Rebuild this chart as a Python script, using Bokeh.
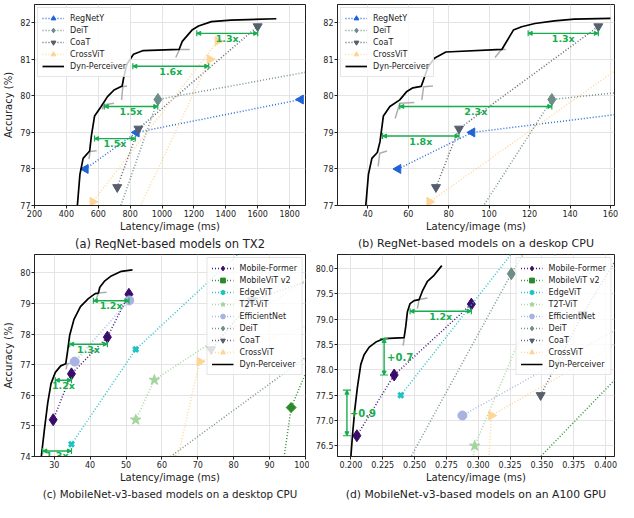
import numpy as np
from bokeh.plotting import figure
from bokeh.layouts import gridplot
from bokeh.models import (Range1d, FixedTicker, Arrow, TeeHead, NormalHead, ColumnDataSource,
                          Title, PrintfTickFormatter)
from bokeh.embed import file_html
from bokeh.resources import INLINE
from bokeh.core.properties import value

FONT = "DejaVu Sans"
GREEN = "#17ad4e"

# ---------------- Panel (a): RegNet-based models on TX2 ----------------
A_REGNETY_X = [520, 840, 1870]
A_REGNETY_Y = [78.0, 79.0, 79.9]
A_DEIT_X = [358, 974, 3334]
A_DEIT_Y = [72.2, 79.9, 81.8]
A_COAT_X = [719, 852, 1600]
A_COAT_Y = [77.5, 79.1, 81.9]
A_CROSSVIT_X = [470, 565, 1350]
A_CROSSVIT_Y = [73.9, 77.1, 81.5]
A_CROSSVIT2_X = [475, 1300]
A_CROSSVIT2_Y = [73.4, 81.0]
A_DYN_X = [466, 469, 485, 505, 546, 557, 577, 618, 658, 699, 750, 760, 780, 821, 882, 1107, 1127, 1188,
           1229, 1310, 1432, 1717]
A_DYN_Y = [76.8, 77.0, 77.85, 78.29, 78.49, 78.91, 79.45, 79.71, 79.98, 80.16, 80.27, 80.51, 80.87, 81.14,
           81.24, 81.27, 81.49, 81.80, 81.91, 82.03, 82.07, 82.11]
A_TAIL_XS = [[542, 548, 590], [624, 638, 699], [746, 754, 780], [1086, 1110, 1174]]
A_TAIL_YS = [[78.27, 78.48, 78.5], [79.63, 79.76, 79.8], [79.89, 80.25, 80.27], [81.05, 81.27, 81.27]]
A_SPEED_X0 = [577, 638, 817, 1218]
A_SPEED_X1 = [832, 973, 1293, 1600]
A_SPEED_Y = [78.83, 79.71, 80.81, 81.71]
A_SPEED_LABEL = ["1.5x", "1.5x", "1.6x", "1.3x"]
A_XTICKS = [200, 400, 600, 800, 1000, 1200, 1400, 1600, 1800]
AB_YTICKS = [77, 78, 79, 80, 81, 82]

# ---------------- Panel (b): RegNet-based models on a desktop CPU ----------------
B_REGNETY_X = [55.0, 91.6, 222.6]
B_REGNETY_Y = [78.0, 79.0, 79.9]
B_DEIT_X = [41.5, 131.0, 455.0]
B_DEIT_Y = [72.2, 79.9, 81.8]
B_COAT_X = [73.7, 85.1, 154.0]
B_COAT_Y = [77.5, 79.1, 81.9]
B_CROSSVIT_X = [64.3, 70.5, 183.0]
B_CROSSVIT_Y = [73.9, 77.1, 81.5]
B_DYN_X = [38.8, 39.0, 40.3, 42.0, 44.7, 46.0, 47.7, 50.9, 55.8, 59.1, 62.3, 66.4, 68.0, 69.7, 72.9, 78.6,
           106.3, 107.9, 112.0, 116.1, 122.6, 132.3, 142.1, 160.0]
B_DYN_Y = [76.8, 77.0, 77.85, 78.29, 78.45, 78.74, 79.45, 79.71, 79.89, 80.11, 80.22, 80.26, 80.51, 80.78,
           81.03, 81.2, 81.27, 81.42, 81.80, 81.89, 81.98, 82.05, 82.10, 82.12]
B_TAIL_XS = [[45.1, 45.9, 49.5], [53.5, 55.8, 63.0], [66.7, 67.6, 72.2], [102.9, 106.1, 108.2]]
B_TAIL_YS = [[78.07, 78.43, 78.49], [79.38, 79.8, 79.82], [79.89, 80.25, 80.27], [81.05, 81.27, 81.27]]
B_SPEED_X0 = [47.3, 55.8, 119.3]
B_SPEED_X1 = [85.1, 131.0, 154.0]
B_SPEED_Y = [78.9, 79.71, 81.71]
B_SPEED_LABEL = ["1.8x", "2.3x", "1.3x"]
B_XTICKS = [40, 60, 80, 100, 120, 140, 160]

# ---------------- Panel (c): MobileNet-v3-based models on a desktop CPU ----------------
C_MF_X = [29.7, 34.8, 44.8, 50.8]
C_MF_Y = [75.2, 76.7, 77.9, 79.3]
C_MVIT_X = [89.5, 96.0, 105.0]
C_MVIT_Y = [70.2, 75.6, 78.1]
C_EDGE_X = [34.8, 52.7, 84.8]
C_EDGE_Y = [74.4, 77.5, 81.0]
C_T2T_X = [52.7, 57.9, 122.5]
C_T2T_Y = [75.2, 76.5, 81.5]
C_EFF_X = [35.7, 50.9]
C_EFF_Y = [77.1, 79.1]
C_DEIT_X = [41.5, 131.0, 455.0]
C_DEIT_Y = [72.2, 79.9, 81.8]
C_COAT_X = [73.7, 85.1, 154.0]
C_COAT_Y = [77.5, 79.1, 81.9]
C_CROSSVIT_X = [64.3, 70.5, 183.0]
C_CROSSVIT_Y = [73.9, 77.1, 81.5]
C_DYN_X = [26.2, 26.4, 27.3, 28.2, 29.1, 30.3, 31.8, 33.2, 33.7, 34.3, 35.5, 37.3, 39.5, 41.4, 42.3, 42.7,
           44.1, 45.9, 48.7, 51.8]
C_DYN_Y = [73.8, 74.0, 74.92, 75.76, 76.38, 76.75, 76.96, 77.03, 77.43, 77.96, 78.48, 78.9, 79.16, 79.32,
           79.34, 79.53, 79.74, 79.9, 80.05, 80.1]
C_TAIL_XS = [[33.3, 33.6, 34.3], [41.6, 42.3, 44.6]]
C_TAIL_YS = [[76.85, 77.03, 77.05], [79.1, 79.34, 79.37]]
C_SPEED_X0 = [26.8, 30.3, 34.3, 40.9]
C_SPEED_X1 = [34.8, 34.8, 44.8, 50.8]
C_SPEED_Y = [74.18, 76.49, 77.67, 79.09]
C_SPEED_LABEL = ["1.3x", "1.2x", "1.3x", "1.2x"]
C_XTICKS = [30, 40, 50, 60, 70, 80, 90, 100]
C_YTICKS = [74, 75, 76, 77, 78, 79, 80]

# ---------------- Panel (d): MobileNet-v3-based models on an A100 GPU ----------------
D_MF_X = [0.2047, 0.234, 0.2946]
D_MF_Y = [76.7, 77.9, 79.3]
D_MVIT_X = [0.300, 0.3225, 0.4186]
D_MVIT_Y = [70.2, 75.6, 78.1]
D_EDGE_X = [0.2392, 0.348]
D_EDGE_Y = [77.5, 81.0]
D_T2T_X = [0.290, 0.2972, 0.381]
D_T2T_Y = [75.2, 76.5, 81.5]
D_EFF_X = [0.2876, 0.430]
D_EFF_Y = [77.1, 79.1]
D_DEIT_X = [0.158, 0.326, 0.372]
D_DEIT_Y = [72.2, 79.9, 81.8]
D_COAT_X = [0.349, 0.382, 0.450]
D_COAT_Y = [77.5, 79.1, 81.9]
D_CROSSVIT_X = [0.3032, 0.3103, 0.616]
D_CROSSVIT_Y = [73.9, 77.1, 81.5]
D_DYN_X = [0.1995, 0.2000, 0.2013, 0.2031, 0.2052, 0.2078, 0.2104, 0.2144, 0.2196, 0.2261, 0.2418, 0.2431,
           0.2444, 0.2465, 0.2497, 0.2536, 0.2562, 0.2601, 0.2653, 0.2714]
D_DYN_Y = [76.0, 76.29, 76.72, 77.22, 77.67, 78.11, 78.3, 78.45, 78.55, 78.62, 78.64, 78.86, 79.15, 79.31,
           79.37, 79.39, 79.56, 79.75, 79.87, 80.06]
D_TAIL_XS = [[0.2410, 0.2420], [0.2522, 0.2536, 0.2601]]
D_TAIL_YS = [[78.48, 78.64], [79.21, 79.39, 79.42]]
D_SPEED_X0 = [0.2465]
D_SPEED_X1 = [0.2946]
D_SPEED_Y = [79.16]
D_SPEED_LABEL = ["1.2x"]
D_GAIN_X = [0.1969, 0.2261]
D_GAIN_Y0 = [76.7, 77.9]
D_GAIN_Y1 = [77.6, 78.62]
D_GAIN_LABEL = ["+0.9", "+0.7"]
D_XTICKS = [0.200, 0.225, 0.250, 0.275, 0.300, 0.325, 0.350, 0.375, 0.400]
D_YTICKS = [76.5, 77.0, 77.5, 78.0, 78.5, 79.0, 79.5, 80.0]

# styles: (color, marker, size, angle)
STY = {
    "RegNetY": ("#1f63d8", "triangle", 9, np.pi / 2),
    "DeiT": ("#6e8d89", "diamond", 12, 0.0),
    "CoaT": ("#575e6e", "inverted_triangle", 9, 0.0),
    "CrossViT": ("#ffd596", "triangle", 9, -np.pi / 2),
    "Mobile-Former": ("#3a0c6c", "diamond", 12, 0.0),
    "MobileViT v2": ("#2b8a2b", "square", 7, np.pi / 4),
    "EdgeViT": ("#1fc2c2", "x", 7, 0.0),
    "T2T-ViT": ("#a4d49e", "star", 11, 0.0),
    "EfficientNet": ("#a8b3e2", "circle", 9, 0.0),
}


def make_fig(xr, yr, xticks, yticks, width, left, ylabel, caption, cap_size, xfmt=None, yfmt=None):
    p = figure(width=width, height=250, x_range=Range1d(*xr), y_range=Range1d(*yr),
               output_backend="svg", toolbar_location=None,
               min_border_left=left, min_border_right=4, min_border_top=4, min_border_bottom=0)
    p.outline_line_color = "#222222"
    p.outline_line_width = 1
    p.background_fill_color = "white"
    for ax in (p.xaxis[0], p.yaxis[0]):
        ax.axis_line_color = "#222222"
        ax.major_tick_line_color = "#222222"
        ax.major_tick_out = 3
        ax.major_tick_in = 0
        ax.minor_tick_out = 0
        ax.minor_tick_in = 0
        ax.major_label_text_font = FONT
        ax.major_label_text_font_size = "8px"
        ax.major_label_text_color = "#222222"
        ax.major_label_standoff = 1
        ax.axis_label_text_font = FONT
        ax.axis_label_text_font_size = "10px"
        ax.axis_label_text_font_style = "normal"
        ax.axis_label_text_color = "#222222"
        ax.axis_label_standoff = 1
    p.xaxis[0].ticker = FixedTicker(ticks=xticks)
    p.yaxis[0].ticker = FixedTicker(ticks=yticks)
    if xfmt:
        p.xaxis[0].formatter = PrintfTickFormatter(format=xfmt)
    if yfmt:
        p.yaxis[0].formatter = PrintfTickFormatter(format=yfmt)
    p.xaxis[0].axis_label = "Latency/image (ms)"
    if ylabel:
        p.yaxis[0].axis_label = ylabel
        p.yaxis[0].axis_label_standoff = 3
    p.grid.grid_line_color = "#e4e4e4"
    p.grid.grid_line_width = 1
    p.add_layout(Title(text=caption, align="center", text_font=FONT, text_font_size=cap_size,
                       text_font_style="normal", text_color="#222222", standoff=0, offset=0), "below")
    return p


def series(p, name, xs, ys, legend=True, markers=True):
    color, marker, size, angle = STY[name]
    kw = dict(legend_label=name) if legend else {}
    p.line(xs, ys, line_color=color, line_dash="1 2", line_width=1.5, line_alpha=0.95, **kw)
    if markers:
        lw = 3 if marker == "x" else 1
        p.scatter(xs, ys, marker=marker, size=size, angle=angle, fill_color=color,
                  line_color=color, line_width=lw, **kw)


def dyn(p, xs, ys, txs, tys):
    p.multi_line(txs, tys, line_color="#9a9a9a", line_width=1.5, line_alpha=0.8)
    p.line(xs, ys, line_color="black", line_width=1.7, legend_label="Dyn-Perceiver")


def speedups(p, x0, x1, y, labels):
    src = ColumnDataSource(dict(x0=x0, x1=x1, y=y))
    p.add_layout(Arrow(source=src, x_start="x0", y_start="y", x_end="x1", y_end="y",
                       start=TeeHead(size=6, line_color=GREEN, line_width=1.2),
                       end=TeeHead(size=6, line_color=GREEN, line_width=1.2),
                       line_color=GREEN, line_width=1.4))
    p.add_layout(Arrow(source=src, x_start="x0", y_start="y", x_end="x1", y_end="y",
                       start=NormalHead(size=4, fill_color=GREEN, line_color=GREEN),
                       end=NormalHead(size=4, fill_color=GREEN, line_color=GREEN),
                       line_alpha=0))
    xm = [(a + b) / 2 for a, b in zip(x0, x1)]
    p.text(xm, y, text=labels, text_color=GREEN, text_font=value(FONT), text_font_style="bold",
           text_font_size="9.5px", text_align="center", text_baseline="middle", y_offset=5)


def gains(p, x, y0, y1, labels):
    src = ColumnDataSource(dict(x=x, y0=y0, y1=y1))
    p.add_layout(Arrow(source=src, x_start="x", y_start="y0", x_end="x", y_end="y1",
                       start=TeeHead(size=8, line_color=GREEN, line_width=1.2),
                       end=TeeHead(size=8, line_color=GREEN, line_width=1.2),
                       line_color=GREEN, line_width=1.4))
    p.add_layout(Arrow(source=src, x_start="x", y_start="y0", x_end="x", y_end="y1",
                       start=NormalHead(size=4, fill_color=GREEN, line_color=GREEN),
                       end=NormalHead(size=4, fill_color=GREEN, line_color=GREEN),
                       line_alpha=0))
    ym = [(a + b) / 2 for a, b in zip(y0, y1)]
    p.text(x, ym, text=labels, text_color=GREEN, text_font=value(FONT), text_font_style="bold",
           text_font_size="10px", text_align="left", text_baseline="middle", x_offset=3)


def style_legend(p, loc):
    lg = p.legend[0]
    lg.location = loc
    lg.label_text_font = FONT
    lg.label_text_font_size = "8px"
    lg.label_text_color = "#222222"
    lg.label_height = 12
    lg.glyph_height = 12
    lg.glyph_width = 22
    lg.spacing = 0
    lg.padding = 4
    lg.margin = 3
    lg.label_standoff = 6
    lg.border_line_color = "#cccccc"
    lg.background_fill_alpha = 0.8


# ---- (a)
pa = make_fig((200, 1900), (77, 82.5), A_XTICKS, AB_YTICKS, 309, 34, "Accuracy (%)",
              "(a) RegNet-based models on TX2", "11.5px")
series(pa, "RegNetY", A_REGNETY_X, A_REGNETY_Y)
series(pa, "DeiT", A_DEIT_X, A_DEIT_Y)
series(pa, "CoaT", A_COAT_X, A_COAT_Y)
series(pa, "CrossViT", A_CROSSVIT_X, A_CROSSVIT_Y)
series(pa, "CrossViT", A_CROSSVIT2_X, A_CROSSVIT2_Y, legend=False)
dyn(pa, A_DYN_X, A_DYN_Y, A_TAIL_XS, A_TAIL_YS)
speedups(pa, A_SPEED_X0, A_SPEED_X1, A_SPEED_Y, A_SPEED_LABEL)
style_legend(pa, "top_left")

# ---- (b)
pb = make_fig((25, 162), (77, 82.5), B_XTICKS, AB_YTICKS, 309, 28, None,
              "(b) RegNet-based models on a deskop CPU", "11px")
series(pb, "RegNetY", B_REGNETY_X, B_REGNETY_Y)
series(pb, "DeiT", B_DEIT_X, B_DEIT_Y)
series(pb, "CoaT", B_COAT_X, B_COAT_Y)
series(pb, "CrossViT", B_CROSSVIT_X, B_CROSSVIT_Y)
dyn(pb, B_DYN_X, B_DYN_Y, B_TAIL_XS, B_TAIL_YS)
speedups(pb, B_SPEED_X0, B_SPEED_X1, B_SPEED_Y, B_SPEED_LABEL)
style_legend(pb, "top_left")

# ---- (c)
pc = make_fig((24.5, 100), (74, 80.6), C_XTICKS, C_YTICKS, 309, 34, "Accuracy (%)",
              "(c) MobileNet-v3-based models on a desktop CPU", "10.3px")
series(pc, "Mobile-Former", C_MF_X, C_MF_Y)
series(pc, "MobileViT v2", C_MVIT_X, C_MVIT_Y)
series(pc, "EdgeViT", C_EDGE_X, C_EDGE_Y)
series(pc, "T2T-ViT", C_T2T_X, C_T2T_Y)
series(pc, "EfficientNet", C_EFF_X, C_EFF_Y)
series(pc, "DeiT", C_DEIT_X, C_DEIT_Y)
series(pc, "CoaT", C_COAT_X, C_COAT_Y)
series(pc, "CrossViT", C_CROSSVIT_X, C_CROSSVIT_Y)
dyn(pc, C_DYN_X, C_DYN_Y, C_TAIL_XS, C_TAIL_YS)
speedups(pc, C_SPEED_X0, C_SPEED_X1, C_SPEED_Y, C_SPEED_LABEL)
style_legend(pc, "top_right")

# ---- (d)
pd_ = make_fig((0.1895, 0.407), (76.29, 80.28), D_XTICKS, D_YTICKS, 309, 28, None,
               "(d) MobileNet-v3-based models on an A100 GPU", "10.8px", xfmt="%.3f", yfmt="%.1f")
series(pd_, "Mobile-Former", D_MF_X, D_MF_Y)
series(pd_, "MobileViT v2", D_MVIT_X, D_MVIT_Y)
series(pd_, "EdgeViT", D_EDGE_X, D_EDGE_Y)
series(pd_, "T2T-ViT", D_T2T_X, D_T2T_Y)
series(pd_, "EfficientNet", D_EFF_X, D_EFF_Y)
series(pd_, "DeiT", D_DEIT_X, D_DEIT_Y)
series(pd_, "CoaT", D_COAT_X, D_COAT_Y)
series(pd_, "CrossViT", D_CROSSVIT_X, D_CROSSVIT_Y)
dyn(pd_, D_DYN_X, D_DYN_Y, D_TAIL_XS, D_TAIL_YS)
speedups(pd_, D_SPEED_X0, D_SPEED_X1, D_SPEED_Y, D_SPEED_LABEL)
gains(pd_, D_GAIN_X, D_GAIN_Y0, D_GAIN_Y1, D_GAIN_LABEL)
style_legend(pd_, "top_right")

grid = gridplot([[pa, pb], [pc, pd_]], toolbar_location=None)

with open("out.html", "w") as f:
    f.write(file_html(grid, INLINE))
